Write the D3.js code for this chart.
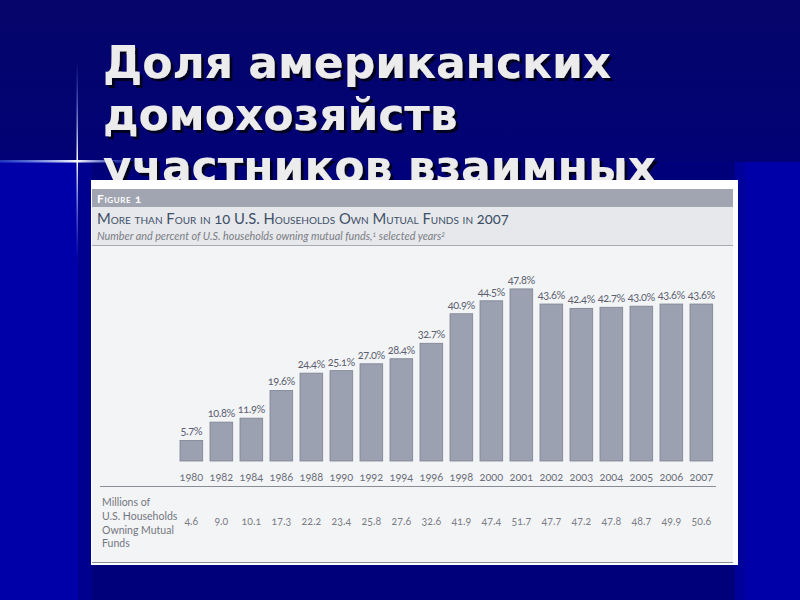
<!DOCTYPE html>
<html><head><meta charset="utf-8">
<script src="https://cdn.jsdelivr.net/npm/d3@7"></script>
<style>
html,body{margin:0;padding:0;background:#00006c;}
svg{display:block;}
.chartfont{font-family:Lato,"Open Sans",sans-serif;font-variant-numeric:oldstyle-nums;font-feature-settings:"onum" 1;}
</style></head>
<body>
<script>
const titleLines = ["Доля американских", "домохозяйств", "участников взаимных"];
const years = ["1980","1982","1984","1986","1988","1990","1992","1994","1996","1998","2000","2001","2002","2003","2004","2005","2006","2007"];
const percents = [5.7,10.8,11.9,19.6,24.4,25.1,27.0,28.4,32.7,40.9,44.5,47.8,43.6,42.4,42.7,43.0,43.6,43.6];
const millions = ["4.6","9.0","10.1","17.3","22.2","23.4","25.8","27.6","32.6","41.9","47.4","51.7","47.7","47.2","47.8","48.7","49.9","50.6"];
const figureLabel = "Figure 1";
const chartTitle = "More than Four in 10 U.S. Households Own Mutual Funds in 2007";
const subtitle = "Number and percent of U.S. households owning mutual funds,";
const subtitle2 = " selected years";
const rowLabel = ["Millions of", "U.S. Households", "Owning Mutual", "Funds"];

const W = 800, H = 600;
const svg = d3.select("body").append("svg").attr("width", W).attr("height", H);
const defs = svg.append("defs");

// background
const bgTop = defs.append("linearGradient").attr("id","bgTop").attr("x1",0).attr("y1",0).attr("x2",0).attr("y2",1);
bgTop.append("stop").attr("offset","0%").attr("stop-color","#05056a");
bgTop.append("stop").attr("offset","100%").attr("stop-color","#020276");
svg.append("rect").attr("width",W).attr("height",H).attr("fill","#00007a");
svg.append("rect").attr("width",W).attr("height",162).attr("fill","url(#bgTop)");
svg.append("rect").attr("x",0).attr("y",162).attr("width",78).attr("height",438).attr("fill","#0000a8");
svg.append("rect").attr("x",78).attr("y",162).attr("width",14).attr("height",438).attr("fill","#00008e");
svg.append("rect").attr("x",745).attr("y",162).attr("width",55).attr("height",438).attr("fill","#0000a8");
svg.append("rect").attr("x",735).attr("y",162).attr("width",10).attr("height",438).attr("fill","#00009a");

// flare
const hg = defs.append("linearGradient").attr("id","hflare").attr("x1",0).attr("x2",1).attr("y1",0).attr("y2",0);
hg.append("stop").attr("offset","0%").attr("stop-color","#3a6cff").attr("stop-opacity",0.5);
hg.append("stop").attr("offset","55%").attr("stop-color","#ffffff").attr("stop-opacity",1);
hg.append("stop").attr("offset","100%").attr("stop-color","#3a6cff").attr("stop-opacity",0);
svg.append("rect").attr("x",0).attr("y",160).attr("width",140).attr("height",2.5).attr("fill","url(#hflare)");
const vg = defs.append("linearGradient").attr("id","vflare").attr("x1",0).attr("x2",0).attr("y1",0).attr("y2",1);
vg.append("stop").attr("offset","0%").attr("stop-color","#6d8cff").attr("stop-opacity",0);
vg.append("stop").attr("offset","50%").attr("stop-color","#ffffff").attr("stop-opacity",1);
vg.append("stop").attr("offset","100%").attr("stop-color","#6d8cff").attr("stop-opacity",0);
svg.append("rect").attr("x",76.5).attr("y",60).attr("width",1.5).attr("height",200).attr("fill","url(#vflare)");

// title with drop shadow filter
const f = defs.append("filter").attr("id","shadow").attr("x","-5%").attr("y","-20%").attr("width","110%").attr("height","140%");
f.append("feDropShadow").attr("dx",3).attr("dy",3).attr("stdDeviation",0.6).attr("flood-color","#000018").attr("flood-opacity",0.9);
const tg = svg.append("g").attr("font-family","'DejaVu Sans',Verdana,sans-serif").attr("font-weight","bold").attr("font-size",44);
titleLines.forEach((t,i)=>{
  tg.append("text").attr("x",103).attr("y",78+i*52).attr("fill","#ececec").attr("filter","url(#shadow)").text(t);
});

// panel
svg.append("rect").attr("x",91).attr("y",180).attr("width",647).attr("height",385).attr("fill","#ffffff");
svg.append("rect").attr("x",92).attr("y",189).attr("width",641).attr("height",374).attr("fill","#f3f4f6");
svg.append("rect").attr("x",92).attr("y",189).attr("width",641).attr("height",18).attr("fill","#a1a5b1");
svg.append("rect").attr("x",92).attr("y",207).attr("width",641).attr("height",38).attr("fill","#e7e8eb");
svg.append("line").attr("x1",92).attr("x2",733).attr("y1",245.5).attr("y2",245.5).attr("stroke","#a8abb3").attr("stroke-width",1.2);

const cf = svg.append("g").attr("class","chartfont");
cf.append("text").attr("x",97).attr("y",203).attr("fill","#ffffff").attr("font-size",12).attr("font-weight","bold")
  .style("font-variant","small-caps").attr("letter-spacing",0.6).text(figureLabel);
cf.append("text").attr("x",97).attr("y",224).attr("fill","#3e5068").attr("font-size",14.8)
  .style("font-variant","small-caps").text(chartTitle);
const st = cf.append("text").attr("x",97).attr("y",240).attr("fill","#7a7d85").attr("font-size",10.8).attr("font-style","italic");
st.append("tspan").text(subtitle);
st.append("tspan").attr("font-size",7).attr("dy",-3).text("1");
st.append("tspan").attr("dy",3).text(subtitle2);
st.append("tspan").attr("font-size",7).attr("dy",-3).text("2");

// scales
const x = d3.scaleBand().domain(years).range([176.35, 716.35]).paddingInner(0.243).paddingOuter(0.1215);
const y = d3.scaleLinear().domain([0, 50]).range([461, 281]);

cf.selectAll("rect.bar").data(percents).join("rect").attr("class","bar")
  .attr("x",(d,i)=>x(years[i])).attr("width",x.bandwidth())
  .attr("y",d=>y(d)).attr("height",d=>y(0)-y(d))
  .attr("fill","#9ca1b1").attr("stroke","#7d8292").attr("stroke-width",0.8);

cf.selectAll("text.val").data(percents).join("text").attr("class","val")
  .attr("x",(d,i)=>x(years[i])+x.bandwidth()/2).attr("y",d=>y(d)-5)
  .attr("text-anchor","middle").attr("font-size",11).attr("fill","#5b6070").attr("letter-spacing",-0.4)
  .text(d=>d.toFixed(1)+"%");

const xAxis = cf.append("g").attr("transform","translate(0,461)")
  .call(d3.axisBottom(x).tickSize(0).tickPadding(12));
xAxis.select(".domain").remove();
xAxis.selectAll("text").attr("font-size",11).attr("fill","#6b6f7a").attr("font-family","Lato,'Open Sans',sans-serif");

cf.append("line").attr("x1",100).attr("x2",716).attr("y1",486.5).attr("y2",486.5).attr("stroke","#8a8d95").attr("stroke-width",1.2);
cf.append("line").attr("x1",92).attr("x2",733).attr("y1",562.5).attr("y2",562.5).attr("stroke","#8a8d95").attr("stroke-width",1.2);

rowLabel.forEach((t,i)=>{
  cf.append("text").attr("x",102).attr("y",506+i*13.8).attr("font-size",10.5).attr("fill","#73767e").text(t);
});
cf.selectAll("text.mil").data(millions).join("text").attr("class","mil")
  .attr("x",(d,i)=>x(years[i])+x.bandwidth()/2).attr("y",525)
  .attr("text-anchor","middle").attr("font-size",10.5).attr("fill","#7a7d85").text(d=>d);
</script>
</body></html>
